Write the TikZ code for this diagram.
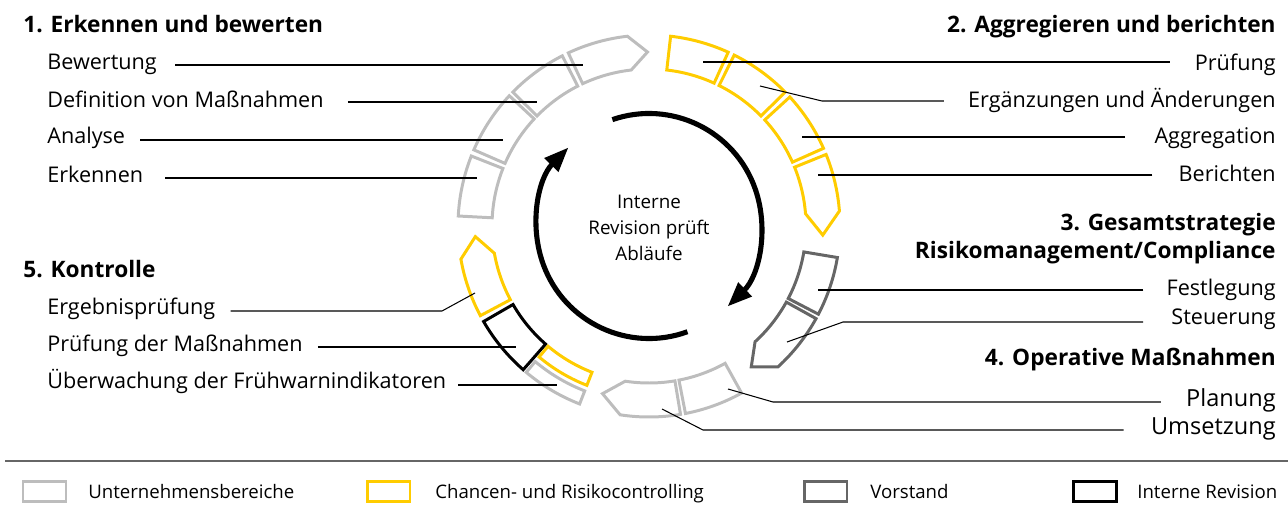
\documentclass[tikz,border=0pt]{standalone}
\usepackage{fontspec}
\setmainfont{Open Sans}
\usepackage{tikz}
\usetikzlibrary{calc,arrows.meta}
\definecolor{unt}{HTML}{BDBDBD}
\definecolor{crc}{HTML}{FFCC00}
\definecolor{vor}{HTML}{666666}
\definecolor{rev}{HTML}{000000}
\definecolor{rule}{HTML}{666666}
\newcommand\labfont{\fontsize{12.3}{15}\selectfont}
\newcommand\midfont{\fontsize{10.7}{14.8}\selectfont}
\newcommand\bigfont{\fontsize{13.4}{16}\selectfont}
\newcommand\headfont{\fontsize{12.9}{15}\selectfont\bfseries}
\newcommand\legfont{\fontsize{10.6}{12}\selectfont}
\tikzset{
  seg/.style={line width=1.7pt, line join=miter},
  ring/.style={draw=black, line width=2.9pt, -{Triangle[length=14pt, width=10.5pt]}},
  conn/.style={draw=black, line width=0.6pt},
  lab/.style={inner sep=0pt, font=\labfont},
  labl/.style={inner sep=0pt, font=\bigfont},
  head/.style={inner sep=0pt, font=\headfont},
  legbox/.style={draw, line width=1.7pt, minimum width=0.86cm, minimum height=0.4cm, inner sep=0pt},
  legtxt/.style={inner sep=0pt, font=\legfont},
  sep/.style={draw=rule, line width=0.9pt},
}
\begin{document}
\begin{tikzpicture}[x=0.02cm, y=0.02cm]
  \useasboundingbox (0,0) rectangle (1288,-511);
  \def\rin{157} \def\rout{191} \def\rmid{174} \def\rarr{112.5}
  \coordinate (C) at (649,-226);
  % ring segments
  \foreach \a/\b/\col in {177/158.5/unt, 156.5/137/unt, 135.5/117/unt,
      83.5/65.5/crc, 63.5/44.5/crc, 42.5/24/crc, -9.5/-27.5/vor,
      -61/-79/unt, -131.2/-150/rev}
    \draw[seg, draw=\col] ($(C)+(\a:\rin)$) arc[start angle=\a, end angle=\b, radius=\rin]
      -- ($(C)+(\b:\rout)$) arc[start angle=\b, end angle=\a, radius=\rout] -- cycle;
  % segments with tip
  \foreach \a/\b/\t/\col in {115/96.5/90.5/unt, 22/4.5/-3/crc, -29/-47.5/-54/vor,
      -80.5/-98.7/-105.5/unt, -152/-170/-176.5/crc}
    \draw[seg, draw=\col] ($(C)+(\a:\rin)$) arc[start angle=\a, end angle=\b, radius=\rin]
      -- ($(C)+(\t:\rmid)$) -- ($(C)+(\b:\rout)$)
      arc[start angle=\b, end angle=\a, radius=\rout] -- cycle;
  % split segment
  \draw[seg, draw=crc] ($(C)+(-111.3:\rin)$) arc[start angle=-111.3, end angle=-130, radius=\rin]
    -- ($(C)+(-130:171)$) arc[start angle=-130, end angle=-111.3, radius=171] -- cycle;
  \draw[seg, draw=unt] ($(C)+(-111.3:177)$) arc[start angle=-111.3, end angle=-130, radius=177]
    -- ($(C)+(-130:\rout)$) arc[start angle=-130, end angle=-111.3, radius=\rout] -- cycle;
  % inner cycle
  \draw[ring] ($(C)+(109:\rarr)$) arc[start angle=109, end angle=-45.7, radius=\rarr];
  \draw[ring] ($(C)+(-70:\rarr)$) arc[start angle=-70, end angle=-224.3, radius=\rarr];
  \node[inner sep=0pt, font=\midfont, align=center] (irev) at (649,-228) {Interne\\Revision prüft\\Abläufe};

  % 1. Erkennen und bewerten
  \node[head, anchor=base west] (h1) at (23,-32) {1. Erkennen und bewerten};
  \node[lab, anchor=base west] (bew) at (47,-69) {Bewertung};
  \node[lab, anchor=base west] (dvm) at (47,-107) {Definition von Maßnahmen};
  \node[lab, anchor=base west] (ana) at (47,-143) {Analyse};
  \node[lab, anchor=base west] (erk) at (47,-182) {Erkennen};
  \coordinate (pBew) at (583,-65);
  \coordinate (pDvm) at (537,-102);
  \coordinate (pAna) at (503,-140);
  \coordinate (pErk) at (477,-178);
  \draw[conn] ($(pBew -| bew.east)+(18,0)$) -- (pBew);
  \draw[conn] ($(pDvm -| dvm.east)+(24,0)$) -- (pDvm);
  \draw[conn] ($(pAna -| ana.east)+(15,0)$) -- (pAna);
  \draw[conn] ($(pErk -| erk.east)+(22,0)$) -- (pErk);

  % 2. Aggregieren und berichten
  \node[head, anchor=base east] (h2) at (1276,-32) {2. Aggregieren und berichten};
  \node[lab, anchor=base east] (pru) at (1276,-70) {Prüfung};
  \node[lab, anchor=base east] (eua) at (1276,-107) {Ergänzungen und Änderungen};
  \node[lab, anchor=base east] (agg) at (1276,-143) {Aggregation};
  \node[lab, anchor=base east] (ber) at (1276,-181) {Berichten};
  \coordinate (pPru) at (703,-62);
  \coordinate (pEua) at (760,-86);
  \coordinate (kEua) at (822,-101);
  \coordinate (pAgg) at (802,-137);
  \coordinate (pBer) at (818,-175);
  \draw[conn] ($(pPru -| pru.west)+(-25,0)$) -- (pPru);
  \draw[conn] ($(kEua -| eua.west)+(-24,0)$) -- (kEua) -- (pEua);
  \draw[conn] ($(pAgg -| agg.west)+(-29,0)$) -- (pAgg);
  \draw[conn] ($(pBer -| ber.west)+(-26,0)$) -- (pBer);

  % 3. Gesamtstrategie
  \node[head, anchor=base east] (h3) at (1276,-230) {3. Gesamtstrategie};
  \node[head, anchor=base east] (h3b) at (1276,-258) {Risikomanagement/Compliance};
  \node[lab, anchor=base east] (fes) at (1276,-295) {Festlegung};
  \node[lab, anchor=base east] (ste) at (1276,-324) {Steuerung};
  \coordinate (pFes) at (818,-290);
  \coordinate (pSte) at (787,-342);
  \coordinate (kSte) at (843,-322);
  \draw[conn] ($(pFes -| fes.west)+(-23,0)$) -- (pFes);
  \draw[conn] ($(kSte -| ste.west)+(-28,0)$) -- (kSte) -- (pSte);

  % 4. Operative Massnahmen
  \node[head, anchor=base east] (h4) at (1276,-365) {4. Operative Maßnahmen};
  \node[labl, anchor=base east] (pla) at (1276,-406) {Planung};
  \node[labl, anchor=base east] (ums) at (1276,-434) {Umsetzung};
  \coordinate (pPla) at (728,-389);
  \coordinate (kPla) at (773,-402);
  \coordinate (pUms) at (662,-409);
  \coordinate (kUms) at (703,-430);
  \draw[conn] ($(kPla -| pla.west)+(-25,0)$) -- (kPla) -- (pPla);
  \draw[conn] ($(kUms -| ums.west)+(-27,0)$) -- (kUms) -- (pUms);

  % 5. Kontrolle
  \node[head, anchor=base west] (h5) at (23,-277) {5. Kontrolle};
  \node[lab, anchor=base west] (erg) at (47,-314) {Ergebnisprüfung};
  \node[lab, anchor=base west] (pdm) at (47,-351) {Prüfung der Maßnahmen};
  \node[lab, anchor=base west] (ueb) at (47,-388) {Überwachung der Frühwarnindikatoren};
  \coordinate (pErg) at (475,-293);
  \coordinate (kErg) at (442,-311);
  \coordinate (pPdm) at (516,-347);
  \coordinate (pUeb) at (557,-385);
  \draw[conn] ($(kErg -| erg.east)+(15,0)$) -- (kErg) -- (pErg);
  \draw[conn] ($(pPdm -| pdm.east)+(15,0)$) -- (pPdm);
  \draw[conn] ($(pUeb -| ueb.east)+(12,0)$) -- (pUeb);

  % legend
  \draw[sep] (5,-461) -- (1288,-461);
  \node[legbox, draw=unt] (lunt) at (44.5,-491) {};
  \node[legbox, draw=crc] (lcrc) at (388.5,-491) {};
  \node[legbox, draw=vor] (lvor) at (825.5,-491) {};
  \node[legbox, draw=rev] (lrev) at (1094.5,-491) {};
  \node[legtxt, anchor=base west] (tunt) at (88,-498) {Unternehmensbereiche};
  \node[legtxt, anchor=base west] (tcrc) at (435,-498) {Chancen- und Risikocontrolling};
  \node[legtxt, anchor=base west] (tvor) at (870,-498) {Vorstand};
  \node[legtxt, anchor=base west] (trev) at (1137,-498) {Interne Revision};
\end{tikzpicture}
\end{document}
